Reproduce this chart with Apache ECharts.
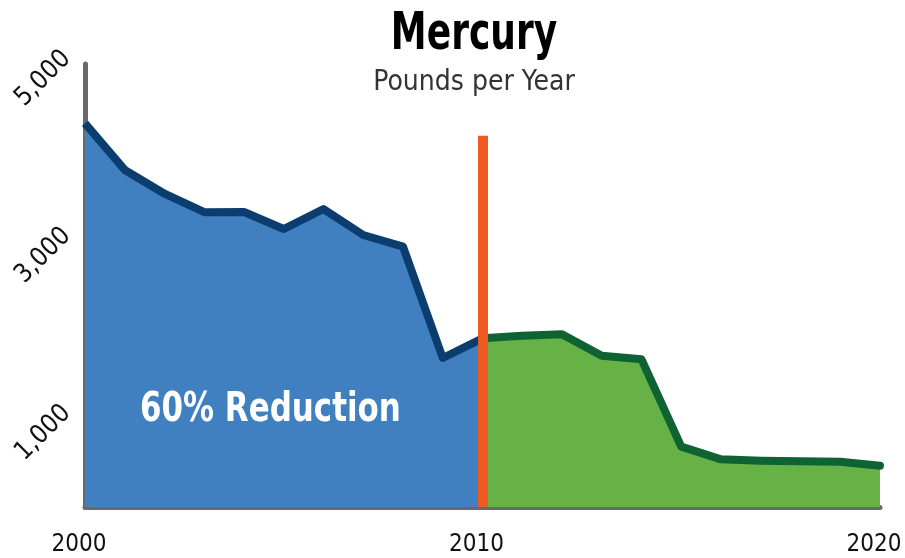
<!DOCTYPE html>
<html>
<head>
<meta charset="utf-8">
<script src="https://cdn.jsdelivr.net/npm/echarts@6/dist/echarts.min.js"></script>
<style>
  html, body { margin: 0; padding: 0; background: #fff; }
  #chart { width: 905px; height: 558px; }
</style>
</head>
<body>
<div id="chart"></div>
<script>
// years along the bottom
var years = ['2000','2001','2002','2003','2004','2005','2006','2007','2008','2009','2010',
             '2011','2012','2013','2014','2015','2016','2017','2018','2019','2020'];
// pounds per year, before and after the 2010 split
var before = [4330, 3804, 3536, 3327, 3330, 3138, 3363, 3070, 2938, 1682, 1904,
              null, null, null, null, null, null, null, null, null, null];
var after  = [null, null, null, null, null, null, null, null, null, null, 1904,
              1933, 1949, 1708, 1667, 681, 538, 523, 515, 511, 466];
var yTicks = [1000, 3000, 5000];
var xTicks = ['2000', '2010', '2020'];
var splitYear = '2010';
var splitTop = 4190;

var narrow = "'DejaVu Sans Condensed', 'Liberation Sans Narrow', Roboto, sans-serif";
var chart = echarts.init(document.getElementById('chart'));
var option = {
    animation: false,
    grid: { left: 85, right: 25, top: 64, bottom: 51 },
    xAxis: {
        type: 'category',
        data: years,
        boundaryGap: false,
        offset: 3,
        axisLine: { lineStyle: { color: '#68686D', width: 5, cap: 'round' } },
        axisTick: { show: false },
        axisLabel: {
            interval: 0,
            margin: 23,
            padding: [0, 12, 0, 0],
            fontFamily: narrow,
            fontSize: 24,
            color: '#111',
            formatter: function (v) { return xTicks.indexOf(v) >= 0 ? v : ''; }
        },
        splitLine: { show: false }
    },
    yAxis: {
        type: 'value',
        min: 0,
        max: 5000,
        interval: 1000,
        axisLine: { show: true, lineStyle: { color: '#68686D', width: 5, cap: 'round' } },
        axisTick: { show: false },
        splitLine: { show: false },
        axisLabel: {
            rotate: 45,
            margin: 9,
            verticalAlign: 'bottom',
            fontFamily: narrow,
            fontSize: 26,
            color: '#111',
            formatter: function (v) { return yTicks.indexOf(v) >= 0 ? v.toLocaleString('en-US') : ''; }
        }
    },
    graphic: [{
        type: 'text',
        z: 100,
        x: 474,
        y: 35,
        scaleX: 0.77,
        style: { text: 'Mercury', fontFamily: narrow, fontWeight: 'bold', fontSize: 52,
                 fill: '#000', align: 'center', verticalAlign: 'middle' }
    }, {
        type: 'text',
        z: 100,
        x: 474,
        y: 83,
        style: { text: 'Pounds per Year', fontFamily: narrow, fontSize: 28,
                 fill: '#333', align: 'center', verticalAlign: 'middle' }
    }, {
        type: 'text',
        z: 100,
        x: 140,
        y: 411,
        scaleX: 0.86,
        style: { text: '60% Reduction', fontFamily: narrow, fontWeight: 'bold', fontSize: 40,
                 fill: '#fff', align: 'left', verticalAlign: 'middle' }
    }],
    series: [{
        type: 'line',
        data: before,
        symbol: 'none',
        lineStyle: { color: '#0B3E6F', width: 8, join: 'round' },
        areaStyle: { color: '#4180C0', opacity: 1 }
    }, {
        type: 'line',
        data: after,
        symbol: 'none',
        lineStyle: { color: '#0F6232', width: 8, cap: 'round', join: 'round' },
        areaStyle: { color: '#66B247', opacity: 1 },
        markLine: {
            silent: true,
            symbol: 'none',
            label: { show: false },
            lineStyle: { color: '#EF5A24', width: 10, type: 'solid' },
            data: [[{ coord: [splitYear, 0] }, { coord: [splitYear, splitTop] }]]
        }
    }]
};
chart.setOption(option);
</script>
</body>
</html>
